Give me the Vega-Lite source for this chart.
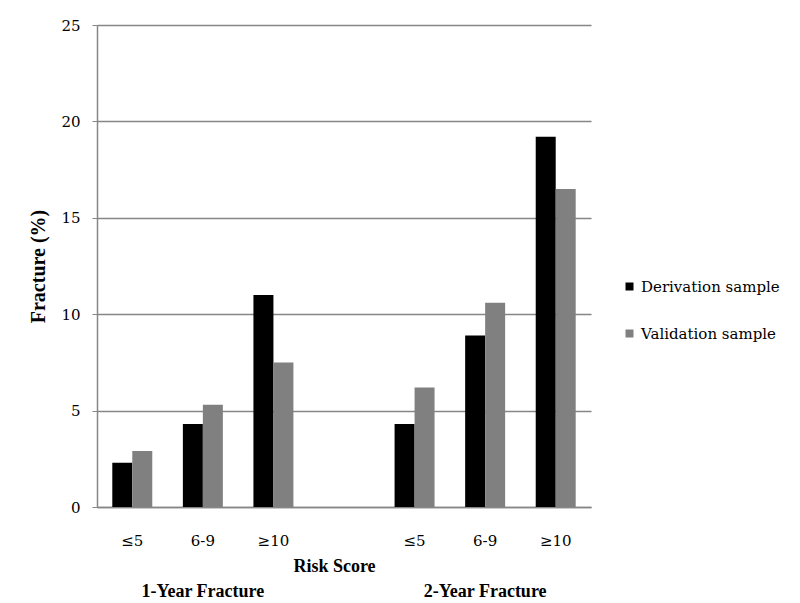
{
  "$schema": "https://vega.github.io/schema/vega-lite/v6.json",
  "width": 494,
  "height": 482,
  "autosize": {"type": "none"},
  "padding": {"left": 97, "top": 25, "right": 209, "bottom": 96},
  "background": "white",
  "config": {
    "view": {"stroke": null},
    "font": "DejaVu Serif"
  },
  "layer": [
    {
      "data": {
        "values": [
          {"slot": "1 ≤5", "series": "Derivation sample", "value": 2.3},
          {"slot": "1 ≤5", "series": "Validation sample", "value": 2.9},
          {"slot": "1 6-9", "series": "Derivation sample", "value": 4.3},
          {"slot": "1 6-9", "series": "Validation sample", "value": 5.3},
          {"slot": "1 ≥10", "series": "Derivation sample", "value": 11.0},
          {"slot": "1 ≥10", "series": "Validation sample", "value": 7.5},
          {"slot": "2 ≤5", "series": "Derivation sample", "value": 4.3},
          {"slot": "2 ≤5", "series": "Validation sample", "value": 6.2},
          {"slot": "2 6-9", "series": "Derivation sample", "value": 8.9},
          {"slot": "2 6-9", "series": "Validation sample", "value": 10.6},
          {"slot": "2 ≥10", "series": "Derivation sample", "value": 19.2},
          {"slot": "2 ≥10", "series": "Validation sample", "value": 16.5}
        ]
      },
      "mark": {"type": "bar"},
      "encoding": {
        "x": {
          "field": "slot",
          "type": "nominal",
          "sort": null,
          "scale": {
            "domain": ["1 ≤5", "1 6-9", "1 ≥10", "gap", "2 ≤5", "2 6-9", "2 ≥10"],
            "paddingInner": 0,
            "paddingOuter": 0
          },
          "axis": {
            "title": "Risk Score",
            "titleFont": "Liberation Serif",
            "titleFontSize": 18,
            "titleFontWeight": "bold",
            "titleColor": "black",
            "titlePadding": 9,
            "titleX": 237,
            "labelExpr": "datum.value == 'gap' ? '' : slice(datum.value, 2)",
            "labelAngle": 0,
            "labelFont": "DejaVu Serif",
            "labelFontSize": 15,
            "labelColor": "black",
            "labelPadding": 26,
            "ticks": false,
            "domainColor": "#868686",
            "domainWidth": 1.5
          }
        },
        "xOffset": {
          "field": "series",
          "type": "nominal",
          "sort": ["Derivation sample", "Validation sample"],
          "scale": {"paddingInner": 0, "paddingOuter": 0.765}
        },
        "y": {
          "field": "value",
          "type": "quantitative",
          "scale": {"domain": [0, 25], "nice": false},
          "axis": {
            "title": "Fracture (%)",
            "titleFont": "Liberation Serif",
            "titleFontSize": 20,
            "titleFontWeight": "bold",
            "titleColor": "black",
            "titlePadding": 12,
            "values": [0, 5, 10, 15, 20, 25],
            "labelFont": "DejaVu Serif",
            "labelFontSize": 15,
            "labelColor": "black",
            "labelPadding": 12,
            "tickSize": 5,
            "tickColor": "#868686",
            "domainColor": "#868686",
            "domainWidth": 1.5,
            "grid": true,
            "gridColor": "#868686",
            "gridWidth": 1.5
          }
        },
        "color": {
          "field": "series",
          "type": "nominal",
          "sort": ["Derivation sample", "Validation sample"],
          "scale": {"range": ["#000000", "#808080"]},
          "legend": {
            "title": null,
            "orient": "none",
            "legendX": 525,
            "legendY": 254,
            "padding": 0,
            "symbolType": "square",
            "symbolSize": 64,
            "symbolStrokeWidth": 0,
            "symbolOpacity": 1,
            "labelFont": "DejaVu Serif",
            "labelFontSize": 15,
            "labelColor": "black",
            "labelOffset": 4,
            "rowPadding": 31
          }
        }
      }
    },
    {
      "data": {
        "values": [
          {"slot": "1 6-9", "label": "1-Year Fracture", "ypos": -4.41},
          {"slot": "2 6-9", "label": "2-Year Fracture", "ypos": -4.41}
        ]
      },
      "mark": {
        "type": "text",
        "font": "Liberation Serif",
        "fontSize": 18,
        "fontWeight": "bold",
        "color": "black",
        "baseline": "middle",
        "align": "center"
      },
      "encoding": {
        "x": {"field": "slot", "type": "nominal"},
        "y": {"field": "ypos", "type": "quantitative"},
        "text": {"field": "label"}
      }
    }
  ]
}
